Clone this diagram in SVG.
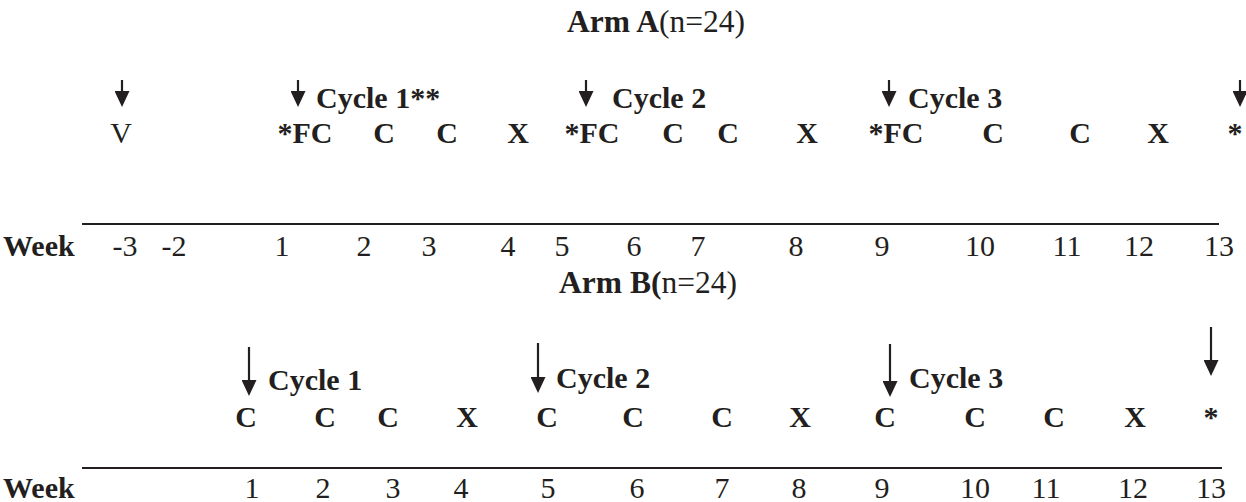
<svg xmlns="http://www.w3.org/2000/svg" width="1246" height="502" viewBox="0 0 1246 502" font-family="'Liberation Serif', 'DejaVu Serif', serif">
  <style>
    text { font-family: 'Liberation Serif', 'DejaVu Serif', serif; font-size: 30px; fill: #231f20; }
    .b { font-weight: bold; }
    .m { text-anchor: middle; }
    .t { font-size: 31.5px; }
    .axis { stroke: #231f20; stroke-width: 2.2; }
    .arrow { stroke: #231f20; stroke-width: 2.2; fill: none; marker-end: url(#head); }
  </style>
  <defs>
    <marker id="head" markerUnits="userSpaceOnUse" viewBox="0 0 16 15" markerWidth="16" markerHeight="15" refX="0" refY="7.5" orient="auto">
      <path d="M0,0 L16,7.5 L0,15 z" fill="#231f20"/>
    </marker>
  </defs>

  <rect width="1246" height="502" fill="#ffffff"/>

  <!-- Arm A schedule -->
  <g id="armA-title">
    <text x="656" y="32" class="m t"><tspan class="b">Arm A</tspan>(n=24)</text>
  </g>

  <g id="armA-cycles">
    <text x="316" y="108" class="b">Cycle 1**</text>
    <text x="612" y="108" class="b">Cycle 2</text>
    <text x="908" y="108" class="b">Cycle 3</text>
  </g>

  <g id="armA-visits">
    <text x="121" y="143" class="m">V</text>
    <text x="305" y="143" class="b m">*FC</text>
    <text x="384" y="143" class="b m">C</text>
    <text x="447" y="143" class="b m">C</text>
    <text x="518" y="143" class="b m">X</text>
    <text x="592" y="143" class="b m">*FC</text>
    <text x="673" y="143" class="b m">C</text>
    <text x="728" y="143" class="b m">C</text>
    <text x="807" y="143" class="b m">X</text>
    <text x="896" y="143" class="b m">*FC</text>
    <text x="993" y="143" class="b m">C</text>
    <text x="1080" y="143" class="b m">C</text>
    <text x="1158" y="143" class="b m">X</text>
    <text x="1235" y="143" class="b m">*</text>
  </g>

  <g id="armA-weeks">
    <text x="3" y="256" class="b">Week</text>
    <text x="125" y="256" class="m">-3</text>
    <text x="174" y="256" class="m">-2</text>
    <text x="282" y="256" class="m">1</text>
    <text x="364" y="256" class="m">2</text>
    <text x="429" y="256" class="m">3</text>
    <text x="508" y="256" class="m">4</text>
    <text x="562" y="256" class="m">5</text>
    <text x="634" y="256" class="m">6</text>
    <text x="698" y="256" class="m">7</text>
    <text x="796" y="256" class="m">8</text>
    <text x="882" y="256" class="m">9</text>
    <text x="980" y="256" class="m">10</text>
    <text x="1067" y="256" class="m">11</text>
    <text x="1139" y="256" class="m">12</text>
    <text x="1219" y="256" class="m">13</text>
  </g>

  <!-- Arm B schedule -->
  <g id="armB-title">
    <text x="648" y="293" class="m t"><tspan class="b">Arm B(</tspan>n=24)</text>
  </g>

  <g id="armB-cycles">
    <text x="268" y="390" class="b">Cycle 1</text>
    <text x="556" y="388" class="b">Cycle 2</text>
    <text x="909" y="388" class="b">Cycle 3</text>
  </g>

  <g id="armB-visits">
    <text x="246" y="427" class="b m">C</text>
    <text x="325" y="427" class="b m">C</text>
    <text x="388" y="427" class="b m">C</text>
    <text x="467" y="427" class="b m">X</text>
    <text x="547" y="427" class="b m">C</text>
    <text x="633" y="427" class="b m">C</text>
    <text x="722" y="427" class="b m">C</text>
    <text x="800" y="427" class="b m">X</text>
    <text x="885" y="427" class="b m">C</text>
    <text x="975" y="427" class="b m">C</text>
    <text x="1054" y="427" class="b m">C</text>
    <text x="1135" y="427" class="b m">X</text>
    <text x="1211" y="427" class="b m">*</text>
  </g>

  <g id="armB-weeks">
    <text x="3" y="498" class="b">Week</text>
    <text x="252" y="498" class="m">1</text>
    <text x="323" y="498" class="m">2</text>
    <text x="393" y="498" class="m">3</text>
    <text x="461" y="498" class="m">4</text>
    <text x="548" y="498" class="m">5</text>
    <text x="637" y="498" class="m">6</text>
    <text x="722" y="498" class="m">7</text>
    <text x="799" y="498" class="m">8</text>
    <text x="882" y="498" class="m">9</text>
    <text x="975" y="498" class="m">10</text>
    <text x="1046" y="498" class="m">11</text>
    <text x="1133" y="498" class="m">12</text>
    <text x="1211" y="498" class="m">13</text>
  </g>

  <!-- Timeline axes and cycle-start arrows -->
  <g id="connectors">
    <line class="axis" x1="82" y1="224" x2="1219" y2="224"/>
    <line class="axis" x1="82" y1="468" x2="1222" y2="468"/>

    <line class="arrow" x1="122" y1="80" x2="122" y2="91"/>
    <line class="arrow" x1="298" y1="80" x2="298" y2="91"/>
    <line class="arrow" x1="586" y1="80" x2="586" y2="91"/>
    <line class="arrow" x1="889" y1="80" x2="889" y2="91"/>
    <line class="arrow" x1="1240" y1="80" x2="1240" y2="91"/>

    <line class="arrow" x1="249" y1="347" x2="249" y2="380"/>
    <line class="arrow" x1="538" y1="343" x2="538" y2="377"/>
    <line class="arrow" x1="890" y1="344" x2="890" y2="381"/>
    <line class="arrow" x1="1211" y1="327" x2="1211" y2="360"/>
  </g>
</svg>
